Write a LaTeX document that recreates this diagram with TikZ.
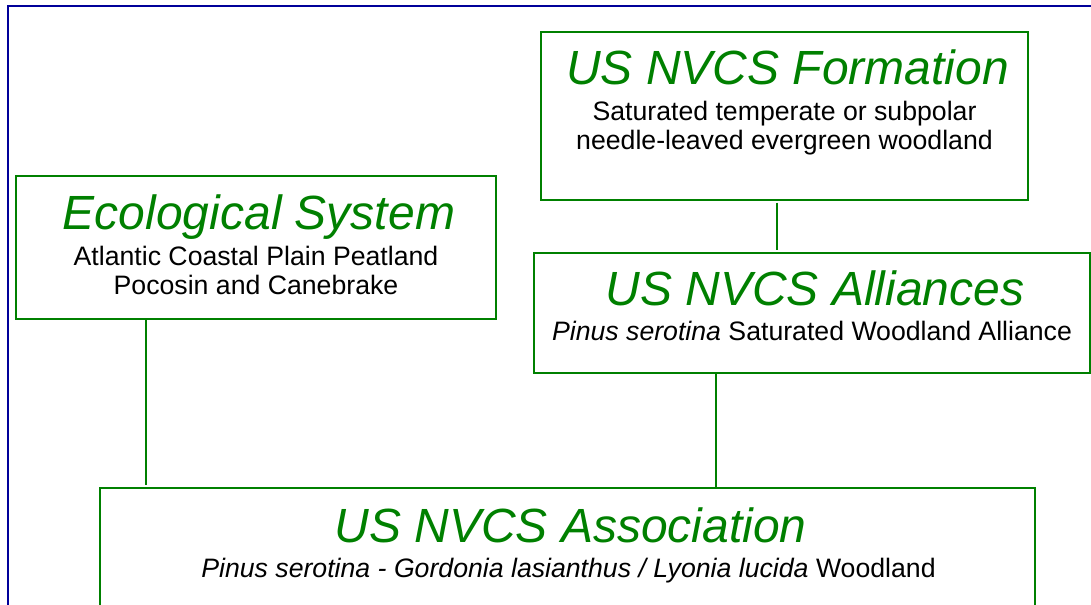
\documentclass[tikz,border=0pt]{standalone}
\usepackage{fontspec}
\setmainfont{Liberation Sans}
\usetikzlibrary{calc}
\definecolor{nvgreen}{RGB}{0,128,0}
\definecolor{frameblue}{RGB}{0,0,153}
\begin{document}
\begin{tikzpicture}[x=0.75pt,y=-0.75pt,
  box/.style={draw=nvgreen, line width=1.5pt, rectangle, inner sep=0pt, outer sep=0pt},
  ttl/.style={anchor=base, text=nvgreen, font=\fontsize{36}{40}\selectfont\itshape, inner sep=0pt},
  sub/.style={anchor=base, text=black, font=\fontsize{20}{24}\selectfont, inner sep=0pt},
  link/.style={draw=nvgreen, line width=1.5pt}]
\useasboundingbox (0,0) rectangle (1091,605);
\clip (0,0) rectangle (1091,605);
\draw[frameblue, line width=2pt] (8,6) rectangle (1120,640);

\node[box, minimum width=365.25pt, minimum height=126pt] (form) at (784.5,116) {};
\node[box, minimum width=360pt, minimum height=107.6pt] (eco) at (256,247.75) {};
\node[box, minimum width=417pt, minimum height=90pt] (all) at (812,313) {};
\node[box, minimum width=701.25pt, minimum height=114pt] (assoc) at (567.5,564) {};

\node[ttl] (formT) at ($(form.north)+(3,53)$) {US NVCS Formation};
\node[sub] (formS1) at ($(form.north)+(0,89)$) {Saturated temperate or subpolar};
\node[sub] (formS2) at ($(form.north)+(0,118)$) {needle-leaved evergreen woodland};

\node[ttl] (ecoT) at ($(eco.north)+(3,53)$) {Ecological System};
\node[sub] (ecoS1) at ($(eco.north)+(0,89)$) {Atlantic Coastal Plain Peatland};
\node[sub] (ecoS2) at ($(eco.north)+(0,118)$) {Pocosin and Canebrake};

\node[ttl] (allT) at ($(all.north)+(3,53)$) {US NVCS Alliances};
\node[sub] (allS) at ($(all.north)+(0,88)$) {\itshape Pinus serotina\upshape{} Saturated Woodland Alliance};

\node[ttl] (assocT) at ($(assoc.north)+(3,54)$) {US NVCS Association};
\node[sub] (assocS) at ($(assoc.north)+(1,89)$) {\itshape Pinus serotina - Gordonia lasianthus / Lyonia lucida\upshape{} Woodland};

\coordinate (c1) at (777,0);
\coordinate (c2) at (716,0);
\coordinate (c3) at (146,0);
\draw[link, shorten <=2pt, shorten >=2pt] (form.south -| c1) -- (all.north -| c1);
\draw[link] (all.south -| c2) -- (assoc.north -| c2);
\draw[link, shorten >=2pt] (eco.south -| c3) -- (assoc.north -| c3);
\end{tikzpicture}
\end{document}
